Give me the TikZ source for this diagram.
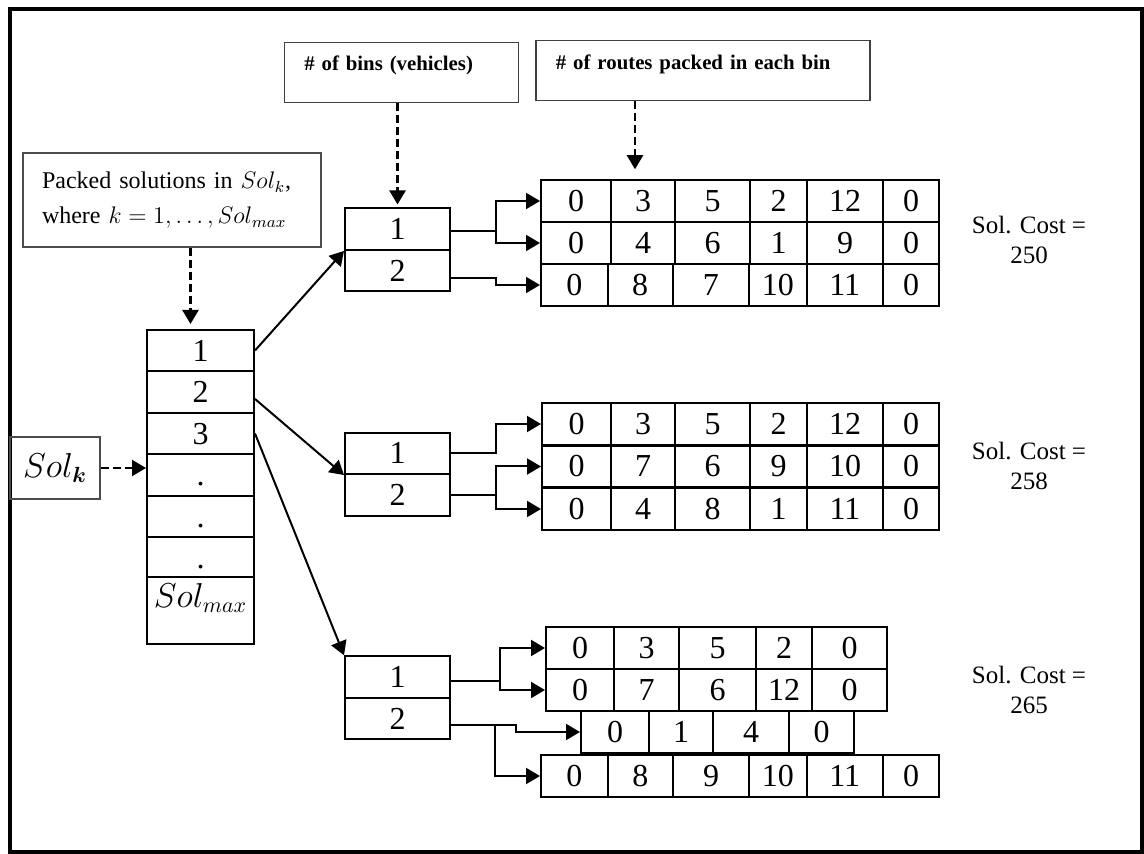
\documentclass[tikz,border=0pt]{standalone}
\usepackage{fontspec}
\setmainfont{Liberation Serif}
\usepackage{amsmath}
\usetikzlibrary{arrows.meta,positioning,calc}
\tikzset{
cell/.style={draw,line width=1pt,inner sep=0pt,minimum height=20.75pt,font=\fontsize{16}{18}\selectfont},
colcell/.style={cell,minimum width=53.5pt,text height=11pt,text depth=0pt},
bincell/.style={cell,minimum width=52.5pt},
labelbox/.style={draw=black!75,line width=.7pt,align=left,inner xsep=10pt,text depth=9pt,font=\fontsize{10.4}{12}\selectfont\bfseries},
note/.style={draw=black!70,line width=.6pt},
flow/.style={-{Triangle[length=7pt,width=8pt]},line width=1pt},
dashflow/.style={flow,dash pattern=on 4pt off 2pt,line width=1.2pt},
cost/.style={align=center,font=\fontsize{12.5}{15}\selectfont}}
\newcommand{\routerow}[3]{\foreach \xa/\xb/\val [count=\i] in {#3}{\node[cell,minimum width={(\xb-\xa)*0.5pt}] (#1-\i) at ({(\xa+\xb)/2},#2) {\val};}}
\begin{document}
\begin{tikzpicture}[x=0.5pt,y=-0.5pt]
\useasboundingbox (0,0) rectangle (1144,854);
\draw[line width=1.6pt] (10,9) rectangle (1142,852);
% labels on top
\node[labelbox,minimum width=117pt,minimum height=29.8pt,text width=97pt] (bins) at (401.3,72.5) {\# of bins (vehicles)};
\node[labelbox,minimum width=167pt,minimum height=30pt,text width=147pt] (routes) at (702.9,70.7) {\# of routes packed in each bin};
\node[note,minimum width=149pt,minimum height=47pt,text width=130pt,align=left,inner xsep=9.5pt,font=\fontsize{12}{17.5}\selectfont] (packed) at (172,200) {Packed solutions in $Sol_k$,\\where $k=1,\ldots,Sol_{max}$};
% solution list
\node[note,minimum width=45pt,minimum height=31pt,font=\fontsize{16}{18}\selectfont] (solk) at (55,468) {$Sol_{\boldsymbol{k}}$};
\node[colcell,minimum height=20.5pt] (col-1) at (200.5,350.5) {1};
\node[colcell,minimum height=21pt] (col-2) at (200.5,392) {2};
\node[colcell,minimum height=20.5pt] (col-3) at (200.5,433.5) {3};
\node[colcell,minimum height=21pt] (col-4) at (200.5,475) {.};
\node[colcell,minimum height=20.5pt] (col-5) at (200.5,516.5) {.};
\node[colcell,minimum height=20pt] (col-6) at (200.5,557) {.};
\node[colcell,minimum height=33.5pt,text depth=14pt] (col-7) at (200.5,610.5) {$Sol_{max}$};
\draw[dashflow] (solk.east) -- (solk.east -| col-4.west);
\coordinate (pk) at ($(col-1.north)+(-5pt,0)$);
\draw[dashflow,shorten >=2.5pt] (pk |- packed.south) -- (pk);
% bins
\node[bincell] (b1-1) at (397.5,229.2) {1};
\node[bincell] (b1-2) at (397.5,270.7) {2};
\node[bincell] (b2-1) at (397.5,453.3) {1};
\node[bincell] (b2-2) at (397.5,494.8) {2};
\node[bincell] (b3-1) at (397.5,677) {1};
\node[bincell] (b3-2) at (397.5,718.5) {2};
\draw[dashflow,shorten >=1.5pt] (b1-1.north |- bins.south) -- (b1-1.north);
\draw[flow] (col-1.east) -- (b1-1.south west);
\draw[flow] ([yshift=-3.5pt]col-2.east) -- (b2-1.south west);
\draw[flow] (col-3.east) -- (b3-1.north west);
% routes
\routerow{t1a}{201}{541/611/0,611/675/3,675/750/5,750/807/2,807/883/12,883/939/0}
\routerow{t1b}{243}{541/611/0,611/675/4,675/750/6,750/807/1,807/883/9,883/939/0}
\routerow{t1c}{285}{541/607.5/0,607.5/672.5/8,672.5/749/7,749/806.5/10,806.5/883/11,883/939/0}
\routerow{t2a}{424}{542/611/0,611/675/3,675/750/5,750/807/2,807/883/12,883/939/0}
\routerow{t2b}{466.5}{542/611/0,611/675/7,675/750/6,750/807/9,807/883/10,883/939/0}
\routerow{t2c}{509}{542/611/0,611/675/4,675/750/8,750/807/1,807/883/11,883/939/0}
\routerow{t3a}{648}{546/614/0,614/679/3,679/756/5,756/812/2,812/887/0}
\routerow{t3b}{690}{546/614/0,614/679/7,679/756/6,756/812/12,812/887/0}
\routerow{t3c}{732}{581/649/0,649/713/1,713/789/4,789/854/0}
\routerow{t3d}{776}{541/607.5/0,607.5/673/8,673/749/9,749/806.5/10,806.5/883/11,883/939/0}
\coordinate (rt) at ($(t1a-1.north east)+(11.5pt,0)$);
\draw[dashflow,shorten >=5pt] (rt |- routes.south) -- (rt);
\draw[flow] ([yshift=-1pt]b1-1.east) -- ++(22.5pt,0) |- (t1a-1.west);
\draw[flow] ([yshift=-1pt]b1-1.east) -- ++(22.5pt,0) |- (t1b-1.west);
\draw[flow] ([yshift=-3.5pt]b1-2.east) -- ++(22.5pt,0) |- (t1c-1.west);
\draw[flow] (b2-1.east) -- ++(22.5pt,0) |- (t2a-1.west);
\draw[flow] (b2-2.east) -- ++(22.5pt,0) |- (t2b-1.west);
\draw[flow] (b2-2.east) -- ++(22.5pt,0) |- (t2c-1.west);
\draw[flow] ([yshift=-2pt]b3-1.east) -- ++(24.5pt,0) |- (t3a-1.west);
\draw[flow] ([yshift=-2pt]b3-1.east) -- ++(24.5pt,0) |- (t3b-1.west);
\draw[flow] ([yshift=-3pt]b3-2.east) -- ++(22pt,0) coordinate (j3) -- ++(10.5pt,0) |- (t3c-1.west);
\draw[flow] (j3) |- (t3d-1.west);
% costs
\node[cost] (cost1) at (1029,240) {Sol. Cost =\\250};
\node[cost] (cost2) at (1029,465.5) {Sol. Cost =\\258};
\node[cost] (cost3) at (1029,690) {Sol. Cost =\\265};
\end{tikzpicture}
\end{document}
